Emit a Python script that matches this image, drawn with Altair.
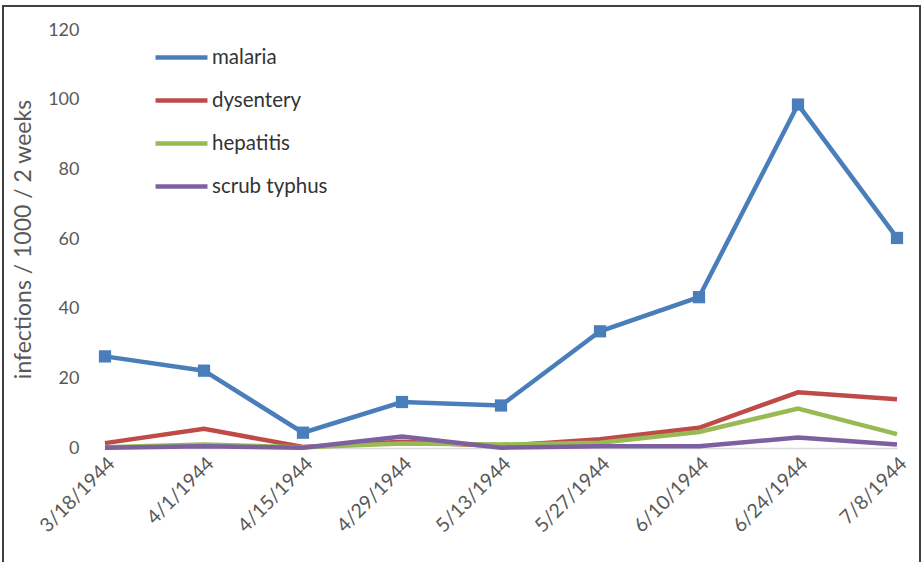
import altair as alt
import pandas as pd

dates = ["3/18/1944", "4/1/1944", "4/15/1944", "4/29/1944", "5/13/1944",
         "5/27/1944", "6/10/1944", "6/24/1944", "7/8/1944"]
series = ["malaria", "dysentery", "hepatitis", "scrub typhus"]
malaria = [26.3, 22.2, 4.4, 13.2, 12.2, 33.5, 43.3, 98.6, 60.3]
dysentery = [1.4, 5.5, 0.3, 1.8, 0.6, 2.5, 5.8, 16.0, 14.0]
hepatitis = [0.2, 1.0, 0.2, 1.3, 1.0, 1.5, 4.6, 11.3, 4.0]
scrub_typhus = [0.1, 0.5, 0.1, 3.3, 0.1, 0.5, 0.5, 3.0, 1.0]
colors = ["#4a7ebb", "#be4b48", "#98b954", "#7d60a0"]

rows = []
for name, vals in zip(series, [malaria, dysentery, hepatitis, scrub_typhus]):
    for d, v in zip(dates, vals):
        rows.append({"date": d, "series": name, "value": v})
df = pd.DataFrame(rows)

FONT = "Lato"
GRAY = "#595959"

x = alt.X("date:N", sort=dates,
          scale=alt.Scale(type="point", padding=0),
          axis=alt.Axis(title=None, labelAngle=-45, labelAlign="right",
                        labelBaseline="top", labelPadding=6, ticks=False,
                        domainColor="#d9d9d9", domainWidth=1.5,
                        labelColor=GRAY, labelFontSize=19.5, labelFont=FONT))
y = alt.Y("value:Q", scale=alt.Scale(domain=[0, 120], nice=False),
          axis=alt.Axis(title="infections / 1000 / 2 weeks", values=[0, 20, 40, 60, 80, 100, 120],
                        grid=False, domain=False, ticks=False, labelPadding=26,
                        labelColor=GRAY, labelFontSize=18, labelFont=FONT,
                        titleColor=GRAY, titleFontSize=23, titleFont=FONT,
                        titleFontWeight="normal", titlePadding=12))
color = alt.Color("series:N", sort=series,
                  scale=alt.Scale(domain=series, range=colors),
                  legend=alt.Legend(title=None, orient="none", legendX=48, legendY=-1,
                                    symbolType="stroke", symbolStrokeWidth=4.5,
                                    symbolSize=2700, labelFontSize=20.5, labelFont=FONT,
                                    labelColor="#333333", rowPadding=4, labelOffset=2))

lines = alt.Chart(df).mark_line(strokeWidth=4.5).encode(x=x, y=y, color=color)
points = alt.Chart(df).transform_filter(alt.datum.series == "malaria").mark_point(
    shape="square", filled=True, size=150, opacity=1).encode(
    x=x, y=y, color=alt.Color("series:N", scale=alt.Scale(domain=series, range=colors), legend=None))

border = alt.Chart(pd.DataFrame({"a": [0]})).mark_rect(
    fill=None, stroke="#404040", strokeWidth=2).encode(
    x=alt.value(-102), x2=alt.value(815), y=alt.value(-24), y2=alt.value(540))

chart = alt.layer(border, lines, points).properties(
    width=792, height=418,
    padding={"left": 105, "top": 30, "right": 26, "bottom": 114},
    autosize=alt.AutoSizeParams(type="none"),
    background="white",
).configure_view(stroke=None)

chart.save("out.html", embed_options={"renderer": "svg", "actions": False})
